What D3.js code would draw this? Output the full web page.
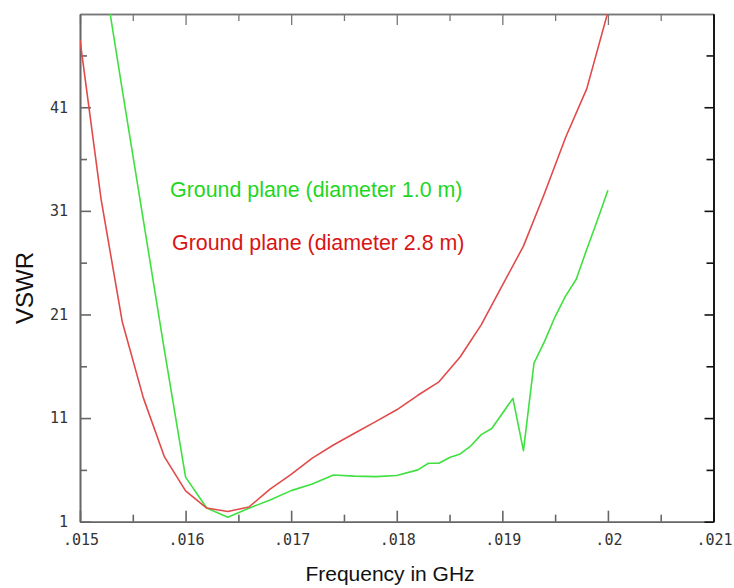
<!DOCTYPE html>
<html><head><meta charset="utf-8">
<script src="https://cdn.jsdelivr.net/npm/d3@7"></script>
<style>body{margin:0;background:#fff}</style>
</head><body><svg id="c" width="734" height="588"></svg>
<script>
// ---- data ----
const freqRed  = [0.0150,0.0152,0.0154,0.0156,0.0158,0.0160,0.0162,0.0164,0.0166,0.0168,0.0170,0.0172,0.0174,0.0176,0.0178,0.0180,0.0182,0.0184,0.0186,0.0188,0.0190,0.0192,0.0194,0.0196,0.0198,0.0200];
const vswrRed  = [47.5,32.1,20.3,12.95,7.25,3.97,2.32,1.98,2.42,4.15,5.57,7.13,8.4,9.54,10.66,11.8,13.2,14.5,16.9,20.0,23.8,27.6,32.7,38.1,42.8,50.2];
const freqGreen = [0.0152,0.0154,0.0156,0.0158,0.0160,0.0162,0.0164,0.0166,0.0168,0.0170,0.0172,0.0174,0.0176,0.0178,0.0180,0.0182,0.0183,0.0184,0.0185,0.0186,0.0187,0.0188,0.0189,0.0191,0.0192,0.0193,0.0194,0.0195,0.0196,0.0197,0.0198,0.0199,0.0200];
const vswrGreen = [55.5,42.7,30.1,17.5,5.3,2.32,1.42,2.3,3.1,4.0,4.64,5.5,5.4,5.35,5.46,6.0,6.64,6.64,7.2,7.54,8.3,9.4,10.0,12.9,7.86,16.3,18.4,20.8,22.8,24.4,27.3,30.1,33.0];
const xMajorTicks = [0.015,0.016,0.017,0.018,0.019,0.020,0.021];
const xTickLabels = [".015",".016",".017",".018",".019",".02",".021"];
const xMinorTicks = [0.0155,0.0165,0.0175,0.0185,0.0195,0.0205];
const yMajorTicks = [1,11,21,31,41];
const yTickLabels = ["1","11","21","31","41"];
const yMinorTicks = [6,16,26,36,46];
const seriesNames = ["Ground plane (diameter 1.0 m)","Ground plane (diameter 2.8 m)"];
const xTitle = "Frequency in GHz";
const yTitle = "VSWR";

// ---- layout ----
const L = 80, R = 713.5, T = 14, B = 521.7;
const svg = d3.select("#c");
const x = d3.scaleLinear().domain([0.015,0.021]).range([L,R]);
const y = d3.scaleLinear().domain([1,50]).range([B,T]);

svg.append("defs").append("clipPath").attr("id","clip")
  .append("rect").attr("x",L).attr("y",T).attr("width",R-L).attr("height",B-T);

function styleAxis(g,color,w){
  g.selectAll("path").attr("stroke",color).attr("stroke-width",w);
  g.selectAll("line").attr("stroke",color).attr("stroke-width",w);
  g.selectAll("text").remove();
}
// bottom
styleAxis(svg.append("g").attr("transform",`translate(0,${B})`)
  .call(d3.axisBottom(x).tickValues(xMajorTicks).tickSize(-11).tickSizeOuter(0)),"#666",1.6);
styleAxis(svg.append("g").attr("transform",`translate(0,${B})`)
  .call(d3.axisBottom(x).tickValues(xMinorTicks).tickSize(-7).tickSizeOuter(0)),"#666",1.6);
// top
styleAxis(svg.append("g").attr("transform",`translate(0,${T})`)
  .call(d3.axisTop(x).tickValues(xMajorTicks).tickSize(-11).tickSizeOuter(0)),"#777",1.3);
styleAxis(svg.append("g").attr("transform",`translate(0,${T})`)
  .call(d3.axisTop(x).tickValues(xMinorTicks).tickSize(-7).tickSizeOuter(0)),"#777",1.3);
// left
styleAxis(svg.append("g").attr("transform",`translate(${L},0)`)
  .call(d3.axisLeft(y).tickValues(yMajorTicks).tickSize(-11).tickSizeOuter(0)),"#666",1.6);
styleAxis(svg.append("g").attr("transform",`translate(${L},0)`)
  .call(d3.axisLeft(y).tickValues(yMinorTicks).tickSize(-7).tickSizeOuter(0)),"#666",1.6);
// right
styleAxis(svg.append("g").attr("transform",`translate(${R},0)`)
  .call(d3.axisRight(y).tickValues(yMajorTicks).tickSize(-9).tickSizeOuter(0)),"#111",1.6);
styleAxis(svg.append("g").attr("transform",`translate(${R},0)`)
  .call(d3.axisRight(y).tickValues(yMinorTicks).tickSize(-7).tickSizeOuter(0)),"#111",1.6);

// tick labels
const mono = "'DejaVu Sans Mono', monospace";
svg.append("g").selectAll("text").data(xMajorTicks).join("text")
  .attr("x",d=>x(d)+1).attr("y",B+23.5).attr("text-anchor","middle")
  .attr("font-family",mono).attr("font-size",15).attr("fill","#333")
  .text((d,i)=>xTickLabels[i]);
svg.append("g").selectAll("text").data(yMajorTicks).join("text")
  .attr("x",L-12).attr("y",d=>y(d)).attr("dy","0.36em").attr("text-anchor","end")
  .attr("font-family",mono).attr("font-size",15).attr("fill","#333")
  .text((d,i)=>yTickLabels[i]);

// axis titles
const sans = "Arial, 'Liberation Sans', sans-serif";
svg.append("text").attr("x",390).attr("y",581).attr("text-anchor","middle")
  .attr("font-family",sans).attr("font-size",21).attr("fill","#111").text(xTitle);
svg.append("text").attr("transform",`translate(33,288) rotate(-90)`).attr("text-anchor","middle")
  .attr("font-family",sans).attr("font-size",24).attr("fill","#111").text(yTitle);

// lines
const line = d3.line().x(d=>x(d[0])).y(d=>y(d[1]));
const plot = svg.append("g").attr("clip-path","url(#clip)");
plot.append("path").datum(d3.zip(freqGreen,vswrGreen)).attr("d",line)
  .attr("fill","none").attr("stroke","#3fe03f").attr("stroke-width",1.6).attr("stroke-linejoin","round");
plot.append("path").datum(d3.zip(freqRed,vswrRed)).attr("d",line)
  .attr("fill","none").attr("stroke","#e24a4a").attr("stroke-width",1.6).attr("stroke-linejoin","round");

// legend labels
svg.append("text").attr("x",170).attr("y",196.5).attr("font-family",sans).attr("font-size",21.4)
  .attr("fill","#1fd61f").text(seriesNames[0]);
svg.append("text").attr("x",172).attr("y",250).attr("font-family",sans).attr("font-size",21.4)
  .attr("fill","#d91414").text(seriesNames[1]);
</script></body></html>
